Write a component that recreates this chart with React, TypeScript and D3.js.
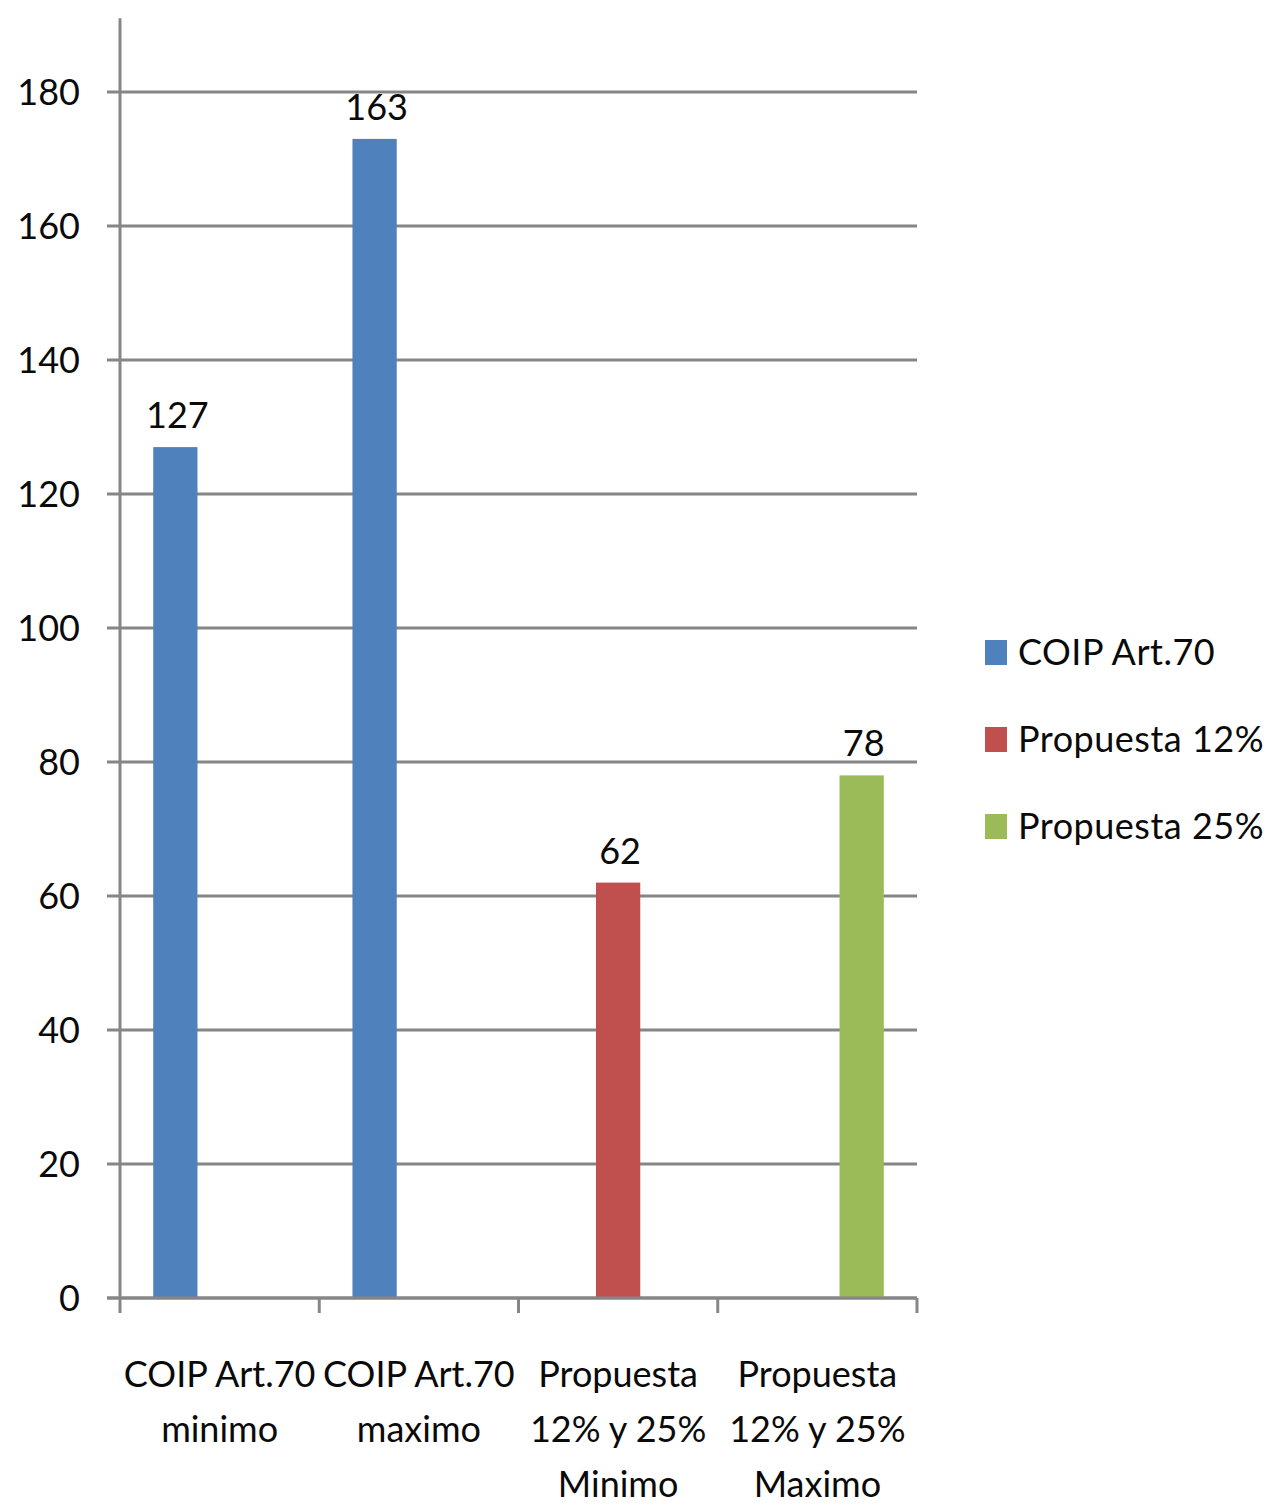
import React from "react";
import * as d3 from "d3";

const categories = [
  "COIP Art.70\nminimo",
  "COIP Art.70\nmaximo",
  "Propuesta\n12% y 25%\nMinimo",
  "Propuesta\n12% y 25%\nMaximo",
];
const seriesNames = ["COIP Art.70", "Propuesta 12%", "Propuesta 25%"];
const seriesColors = ["#4F81BD", "#C0504D", "#9BBB59"];
const coipValues = [127, 173, null, null];
const propuesta12Values = [null, null, 62, null];
const propuesta25Values = [null, null, null, 78];
const coipLabels = ["127", "163", null, null];
const propuesta12Labels = [null, null, "62", null];
const propuesta25Labels = [null, null, null, "78"];
const yTicks = [0, 20, 40, 60, 80, 100, 120, 140, 160, 180];
const yAxisTopValue = 191;

const seriesValues = [coipValues, propuesta12Values, propuesta25Values];
const seriesLabels = [coipLabels, propuesta12Labels, propuesta25Labels];

const W = 1274;
const H = 1508;
const FONT = "Lato, 'Open Sans', sans-serif";
const GRID = "#868686";

export default function App() {
  const plotLeft = 120;
  const plotRight = 917;
  const y = d3.scaleLinear().domain([0, 180]).range([1298, 92]);
  const x = d3
    .scaleBand<string>()
    .domain(categories)
    .range([plotLeft, plotRight])
    .paddingInner(0)
    .paddingOuter(0);
  const xs = d3
    .scaleBand<string>()
    .domain(seriesNames)
    .range([0, x.bandwidth()])
    .paddingInner(0)
    .paddingOuter(0.75);

  const fs = 36;

  return (
    <svg
      width={W}
      height={H}
      style={{ position: "absolute", left: 0, top: 0, background: "#fff" }}
      fontFamily={FONT}
    >
      <rect x={0} y={0} width={W} height={H} fill="#fff" />
      {yTicks.map((t) => (
        <g key={t}>
          <line x1={107} x2={plotRight} y1={y(t)} y2={y(t)} stroke={GRID} strokeWidth={3} />
          <text x={80} y={y(t)} dy="0.36em" textAnchor="end" fontSize={fs} fill="#0a0a0a">
            {t}
          </text>
        </g>
      ))}
      <line
        x1={plotLeft}
        x2={plotLeft}
        y1={y(yAxisTopValue)}
        y2={y(0)}
        stroke={GRID}
        strokeWidth={3}
      />
      {seriesValues.map((vals, si) =>
        vals.map((v, ci) =>
          v == null ? null : (
            <g key={`${si}-${ci}`}>
              <rect
                x={(x(categories[ci]) as number) + (xs(seriesNames[si]) as number)}
                y={y(v)}
                width={xs.bandwidth()}
                height={y(0) - y(v)}
                fill={seriesColors[si]}
              />
              <text
                x={(x(categories[ci]) as number) + (xs(seriesNames[si]) as number) + xs.bandwidth() / 2 + 2}
                y={y(v) - 19}
                textAnchor="middle"
                fontSize={fs}
                fill="#0a0a0a"
              >
                {seriesLabels[si][ci]}
              </text>
            </g>
          )
        )
      )}
      <line x1={107} x2={plotRight} y1={y(0)} y2={y(0)} stroke={GRID} strokeWidth={3} />
      {categories.concat([""]).map((c, i) => {
        const xx = plotLeft + i * x.step();
        return (
          <line key={"t" + i} x1={xx} x2={xx} y1={y(0)} y2={y(0) + 15} stroke={GRID} strokeWidth={3} />
        );
      })}
      {categories.map((c) => {
        const cx = (x(c) as number) + x.bandwidth() / 2;
        return (
          <text key={c} textAnchor="middle" fontSize={fs} fill="#0a0a0a">
            {c.split("\n").map((line, li) => (
              <tspan key={li} x={cx} y={1387 + li * 55}>
                {line}
              </tspan>
            ))}
          </text>
        );
      })}
      {seriesNames.map((s, i) => {
        const by = 665 + i * 87;
        return (
          <g key={s}>
            <rect x={985} y={by - 25} width={22} height={25} fill={seriesColors[i]} />
            <text x={1018} y={by} fontSize={fs} fill="#0a0a0a" letterSpacing={0.5}>
              {s}
            </text>
          </g>
        );
      })}
    </svg>
  );
}
